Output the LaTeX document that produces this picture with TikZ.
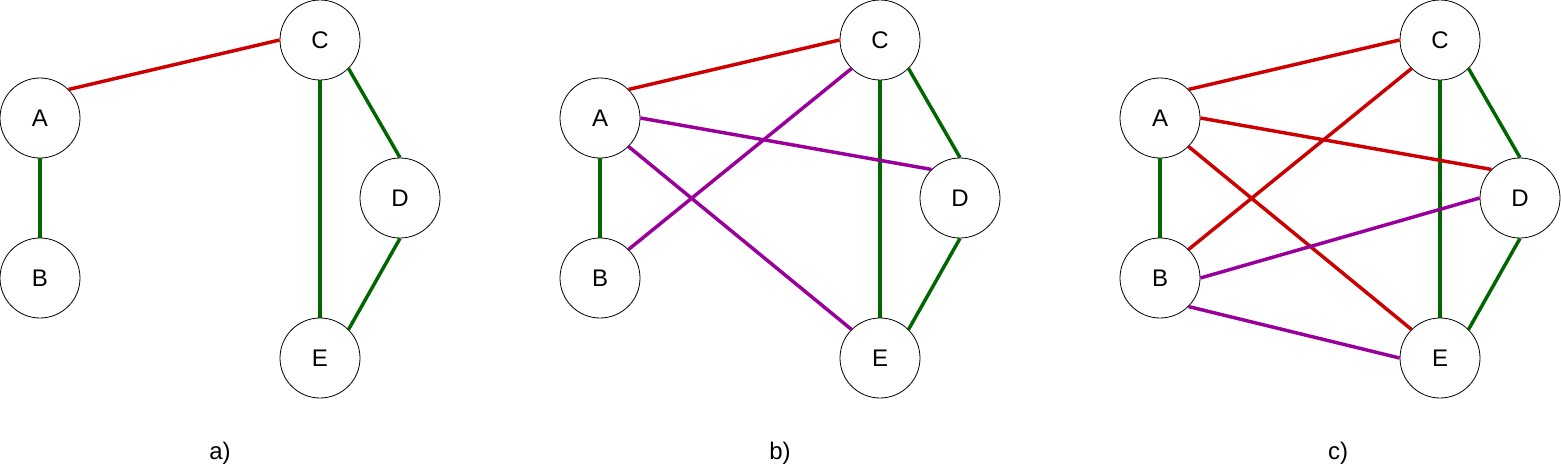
\documentclass[tikz,border=0pt]{standalone}
\usepackage{fontspec}
\setmainfont{Liberation Sans}
\definecolor{edgered}{HTML}{CC0000}
\definecolor{edgegreen}{HTML}{006600}
\definecolor{edgepurple}{HTML}{990099}
\tikzset{
  vertex/.style={circle,draw=black,line width=0.6pt,fill=white,minimum size=60pt,inner sep=0pt,
    font=\fontsize{18}{21}\selectfont},
  panellabel/.style={font=\fontsize{18}{21}\selectfont},
  redge/.style={edgered,line width=2.6pt},
  gedge/.style={edgegreen,line width=2.6pt},
  pedge/.style={edgepurple,line width=2.6pt}
}
\begin{document}
\begin{tikzpicture}[x=0.75pt,y=-0.75pt]
  \useasboundingbox (0,0) rectangle (1561,471);

  % positions of the five vertices in each panel
  \foreach \p/\dx/\lx in {a/0/220,b/560/780,c/1120/1338} {
    \coordinate (\p A) at (\dx+40,118);
    \coordinate (\p B) at (\dx+40,278);
    \coordinate (\p C) at (\dx+320,40);
    \coordinate (\p D) at (\dx+400,198);
    \coordinate (\p E) at (\dx+320,358);
    \node[panellabel] (\p lab) at (\lx,453) {\p)};
  }

  % vertices
  \foreach \p in {a,b,c} {
    \foreach \v in {A,B,C,D,E}
      \node[vertex] (\p\v n) at (\p\v) {\v};
  }

  % edges that are in every panel
  \foreach \p in {a,b,c} {
    \draw[gedge] (\p An.south) -- (\p Bn.north);
    \draw[gedge] (\p Cn.south) -- (\p En.north);
    \draw[gedge] (\p Cn.south east) -- (\p Dn.north);
    \draw[gedge] (\p Dn.south) -- (\p En.north east);
    \draw[redge] (\p An.north east) -- (\p Cn.west);
  }

  % b)
  \draw[pedge] (bAn.east) -- (bDn.north west);
  \draw[pedge] (bAn.south east) -- (bEn.north west);
  \draw[pedge] (bBn.north east) -- (bCn.south west);

  % c)
  \draw[redge] (cAn.east) -- (cDn.north west);
  \draw[redge] (cAn.south east) -- (cEn.north west);
  \draw[redge] (cBn.north east) -- (cCn.south west);
  \draw[pedge] (cBn.east) -- (cDn.west);
  \draw[pedge] (cBn.south east) -- (cEn.west);

\end{tikzpicture}
\end{document}
